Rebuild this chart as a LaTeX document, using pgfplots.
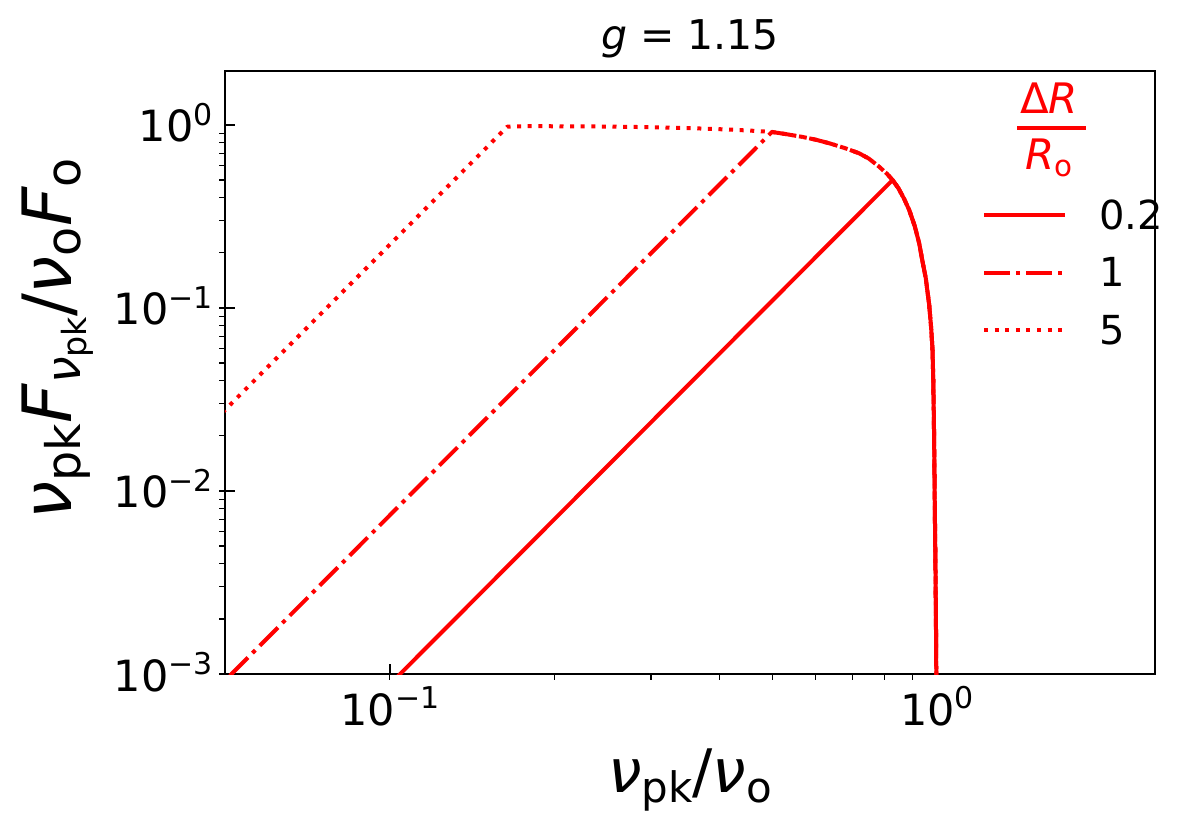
\documentclass[border=0pt]{standalone}
\usepackage{fontspec}
\setmainfont{DejaVu Sans}
\usepackage{pgfplots}
\pgfplotsset{compat=1.18}
\definecolor{mplred}{RGB}{255,0,0}
% explicit sub/superscripts: \sbs{drop}{size}{text}, \sps{raise}{size}{text}
\newcommand\sbs[3]{\raisebox{-#1}{\fontsize{#2}{#2}\selectfont #3}}
\newcommand\sps[3]{\raisebox{#1}{\fontsize{#2}{#2}\selectfont #3}}
\newcommand\tl[1]{10\sps{16.8pt}{30}{#1}}
\begin{document}
\begin{tikzpicture}
\begin{axis}[
  at={(0pt,0pt)}, anchor=south west,
  scale only axis, width=930pt, height=603pt,
  xmode=log, ymode=log,
  xmin=0.05, xmax=2.5, ymin=0.001, ymax=1.97,
  axis line style={line width=1.6pt},
  xtick={0.1,1}, xticklabels={\tl{−1},\tl{0}},
  ytick={0.001,0.01,0.1,1},
  yticklabels={\tl{−3},\tl{−2},\tl{−1},\tl{0}},
  xtick pos=bottom, ytick pos=left,
  tick align=inside,
  major tick length=10pt, minor tick length=-5.7pt,
  major tick style={line width=1.6pt, black},
  minor tick style={line width=1.2pt, black},
  tick label style={font=\fontsize{43}{50}\selectfont, inner sep=0pt},
  xticklabel style={anchor=base, yshift=-51pt},
  yticklabel style={anchor=base east, xshift=-12pt, yshift=-17pt},
  title={\textit{g} = 1.15},
  title style={font=\fontsize{41}{48}\selectfont, at={(axis description cs:0.5,1)}, anchor=base, yshift=16pt, inner sep=0pt},
  xlabel={\textit{ν}\sbs{10pt}{42}{pk}/\textit{ν}\sbs{10pt}{42}{o}},
  xlabel style={font=\fontsize{60}{70}\selectfont, at={(axis description cs:0.5,0)}, anchor=base, yshift=-118pt, inner sep=0pt},
  ylabel={\textit{ν}\sbs{9pt}{47.6}{pk}\textit{F}\sbs{9pt}{47.6}{\textit{ν}\sbs{6pt}{33.3}{pk}}/\textit{ν}\sbs{9pt}{47.6}{o}\textit{F}\sbs{9pt}{47.6}{o}},
  ylabel style={font=\fontsize{68}{80}\selectfont, at={(axis description cs:-0.1645,0.556)}, anchor=base, inner sep=0pt},
  legend style={at={(axis description cs:0.814,0.785)}, anchor=north west, draw=none, fill=none,
    inner sep=0pt, outer sep=0pt, row sep=28.8pt, column sep=32pt,
    font=\fontsize{40}{46}\selectfont,
    nodes={inner sep=0pt, outer sep=0pt, text height=28.7pt, text depth=0pt, anchor=base west}},
  legend cell align=left,
  legend image code/.code={\path[draw=none,fill=none] (0pt,0pt) rectangle (81pt,28.7pt); \draw[#1] (0pt,14.3pt) -- (81pt,14.3pt);},
]
\addplot[mplred, line width=4pt, line join=round] coordinates {
(0.0829,0.0005) (0.829,0.50) (0.85,0.45) (0.87,0.395) (0.889,0.343) (0.91,0.28)
(0.927,0.226) (0.94,0.18) (0.953,0.146) (0.967,0.104) (0.975,0.078) (0.9804,0.060)
(0.9835,0.042) (0.986,0.026) (0.988,0.016) (0.990,0.0085) (0.991,0.0065)
(0.9935,0.0032) (0.9955,0.0015) (0.9968,0.0008) (0.998,0.0003)
};
\addlegendentry{0.2}
\addplot[mplred, line width=4pt, line join=round, dash pattern=on 25.6pt off 6.4pt on 4pt off 6.4pt] coordinates {
(0.045,0.000671) (0.499,0.915) (0.53,0.89) (0.567,0.86) (0.60,0.83) (0.635,0.794)
(0.68,0.745) (0.72,0.70) (0.75,0.655) (0.783,0.592) (0.81,0.54) (0.829,0.50)
(0.85,0.45) (0.87,0.395) (0.889,0.343) (0.91,0.28)
(0.927,0.226) (0.94,0.18) (0.953,0.146) (0.967,0.104) (0.975,0.078) (0.9804,0.060)
(0.9835,0.042) (0.986,0.026) (0.988,0.016) (0.990,0.0085) (0.991,0.0065)
(0.9935,0.0032) (0.9955,0.0015) (0.9968,0.0008) (0.998,0.0003)
};
\addlegendentry{1}
\addplot[mplred, line width=4pt, line join=round, dash pattern=on 4pt off 6.6pt] coordinates {
(0.045,0.0202) (0.164,0.978) (0.18,0.984) (0.22,0.982) (0.26,0.978) (0.30,0.971)
(0.34,0.963) (0.38,0.953) (0.42,0.942) (0.46,0.929)
(0.499,0.915) (0.53,0.89) (0.567,0.86) (0.60,0.83) (0.635,0.794)
(0.68,0.745) (0.72,0.70) (0.75,0.655) (0.783,0.592) (0.81,0.54) (0.829,0.50)
(0.85,0.45) (0.87,0.395) (0.889,0.343) (0.91,0.28)
(0.927,0.226) (0.94,0.18) (0.953,0.146) (0.967,0.104) (0.975,0.078) (0.9804,0.060)
(0.9835,0.042) (0.986,0.026) (0.988,0.016) (0.990,0.0085) (0.991,0.0065)
(0.9935,0.0032) (0.9955,0.0015) (0.9968,0.0008) (0.998,0.0003)
};
\addlegendentry{5}
\node[text=mplred, font=\fontsize{42}{50}\selectfont, anchor=base, inner sep=0pt, yshift=14.4pt] at (axis description cs:0.886,0.906) {Δ\textit{R}};
\draw[mplred, line width=3.7pt] ([xshift=-34.5pt]axis description cs:0.889,0.906) -- ([xshift=34.5pt]axis description cs:0.889,0.906);
\node[text=mplred, font=\fontsize{42}{50}\selectfont, anchor=base, inner sep=0pt, yshift=-42.3pt] at (axis description cs:0.886,0.906) {\textit{R}\sbs{7pt}{29.4}{o}};
\end{axis}
\pgfresetboundingbox
\path (-225pt,-162pt) rectangle (965pt,674pt);
\end{tikzpicture}
\end{document}
